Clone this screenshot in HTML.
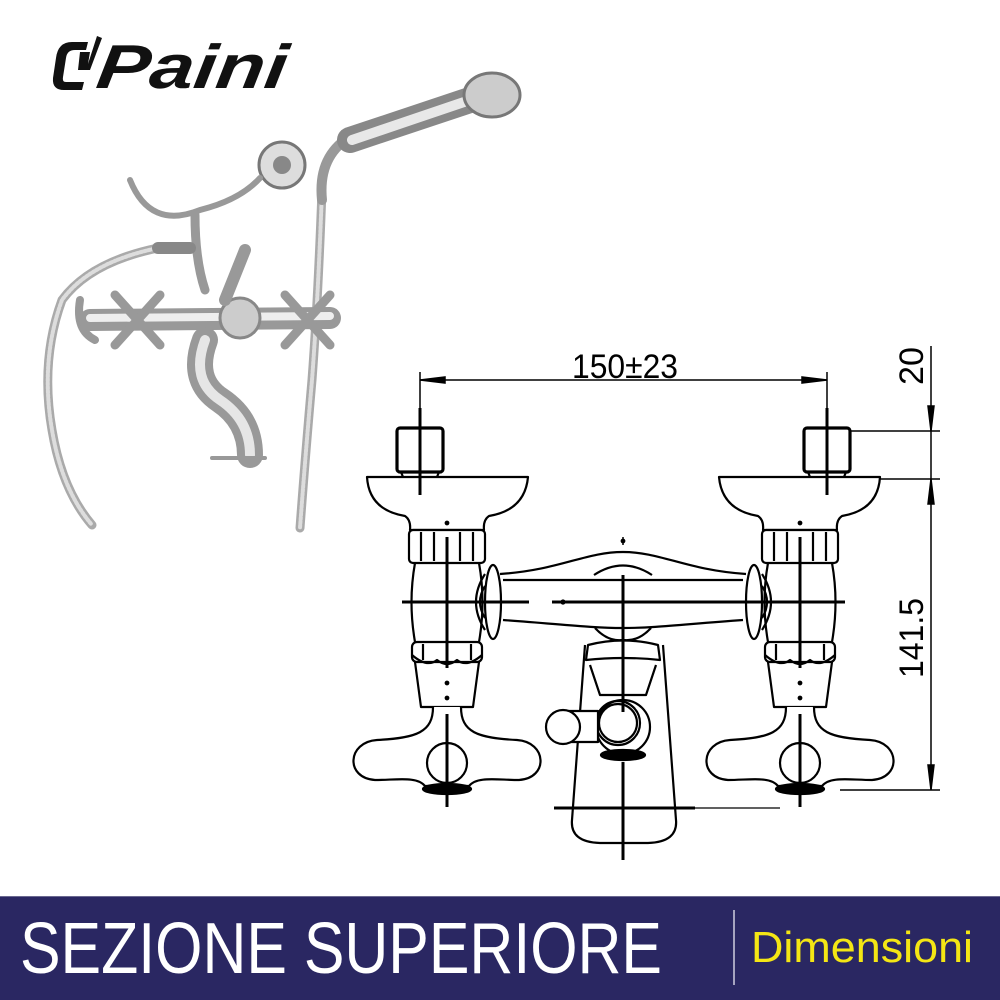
<!DOCTYPE html>
<html><head><meta charset="utf-8"><style>
html,body{margin:0;padding:0;background:#fff;width:1000px;height:1000px;overflow:hidden}
svg{display:block}
</style></head><body>
<svg width="1000" height="1000" viewBox="0 0 1000 1000" xmlns="http://www.w3.org/2000/svg">
<defs>
<g id="valve" fill="none" stroke="#000" stroke-width="2.2" stroke-linejoin="round">
  <rect x="-50" y="428" width="46" height="44" rx="3" stroke-width="3.2"/>
  <path d="M-46 472 L-44 477 M-8 472 L-10 477"/>
  <path d="M-80 477 H81 Q78 510 42 516 Q36 520 37 530 H-37 Q-36 520 -42 516 Q-78 510 -80 477 Z" fill="#fff"/>
  <rect x="-38" y="530" width="76" height="33" rx="4" fill="#fff"/>
  <path d="M-26 532 V561 M-13 532 V561 M13 532 V561 M26 532 V561"/>
  <path d="M-32 563 Q-39 602 -32 642 M32 563 Q39 602 32 642"/>
  <rect x="-35" y="642" width="70" height="20" rx="5" fill="#fff"/>
  <path d="M-35 655 Q-20 668 -10 660 Q0 668 10 660 Q20 668 35 655 M-24 644 V660 M24 644 V660"/>
  <path d="M-32 662 L-26 707 H26 L32 662"/>
  <path d="M-14 707 C-14 732 -30 738 -70 740 C-100 742 -102 778 -72 780 C-50 780 -30 776 -22 786 H22 C30 776 50 780 72 780 C102 778 100 742 70 740 C30 738 14 732 14 707" fill="#fff"/>
  <ellipse cx="0" cy="763" rx="20" ry="20" fill="#fff"/>
  <ellipse cx="0" cy="789" rx="24" ry="5" fill="#000"/>
  <ellipse cx="46" cy="602" rx="8" ry="37" fill="#fff"/>
  <path d="M38 574 Q20 602 38 630 M38 586 Q28 602 38 618"/>
  <line x1="-27" y1="408" x2="-27" y2="495" stroke-width="3"/>
  <line x1="0" y1="537" x2="0" y2="668" stroke-width="3"/>
  <line x1="0" y1="714" x2="0" y2="807" stroke-width="3"/>
  <line x1="-45" y1="602" x2="82" y2="602" stroke-width="3"/>
  <circle cx="0" cy="523" r="1.3" fill="#000"/>
  <circle cx="0" cy="683" r="1.3" fill="#000"/>
  <circle cx="0" cy="698" r="1.3" fill="#000"/>
</g>
</defs>

<g fill="#111">
  <path d="M72 42 Q58 42 56 58 L53 78 Q52 90 64 90 L82 90 L84 82 L66 82 Q62 82 63 77 L66 58 Q67 50 75 50 L86 50 L88 42 Z"/>
  <path d="M80 52 L90 52 L88 64 L97 36 L102 38 L90 70 L78 70 Z"/>
  <text x="95" y="88" font-family="Liberation Sans, sans-serif" font-weight="bold" font-style="italic" font-size="62" transform="skewX(-8) translate(12,0)" textLength="190" lengthAdjust="spacingAndGlyphs">Paini</text>
</g>

<g fill="none" stroke-linecap="round">
  <path d="M158 248 Q90 262 62 300 Q40 360 52 430 Q62 490 92 525" stroke="#aaa" stroke-width="9"/>
  <path d="M158 248 Q90 262 62 300 Q40 360 52 430 Q62 490 92 525" stroke="#ddd" stroke-width="4" stroke-dasharray="2 2"/>
  <path d="M322 190 Q318 300 312 380 Q305 460 300 528" stroke="#aaa" stroke-width="9"/>
  <path d="M322 190 Q318 300 312 380 Q305 460 300 528" stroke="#ddd" stroke-width="4" stroke-dasharray="2 2"/>
  <path d="M322 200 Q318 160 345 140" stroke="#999" stroke-width="10"/>
  <path d="M350 140 L470 100" stroke="#888" stroke-width="26"/>
  <path d="M352 140 L470 100" stroke="#e8e8e8" stroke-width="10"/>
  <ellipse cx="492" cy="95" rx="28" ry="22" fill="#ccc" stroke="#777" stroke-width="3"/>
  <circle cx="282" cy="165" r="23" fill="#ddd" stroke="#777" stroke-width="3"/>
  <circle cx="282" cy="165" r="9" fill="#888"/>
  <path d="M130 180 Q150 230 200 210 Q240 200 260 178" stroke="#999" stroke-width="6"/>
  <path d="M195 215 Q195 260 205 290" stroke="#999" stroke-width="9"/>
  <path d="M158 248 L190 248" stroke="#888" stroke-width="12"/>
  <path d="M80 300 Q75 330 95 340" stroke="#999" stroke-width="8"/>
  <path d="M90 320 L330 318" stroke="#999" stroke-width="22"/>
  <path d="M90 318 L330 316" stroke="#eee" stroke-width="8"/>
  <path d="M115 295 L160 345 M160 295 L115 345 M285 295 L330 345 M330 295 L285 345" stroke="#999" stroke-width="9"/>
  <circle cx="240" cy="318" r="20" fill="#ccc" stroke="#888" stroke-width="3"/>
  <path d="M225 300 L245 250" stroke="#999" stroke-width="12"/>
  <path d="M205 340 Q190 380 220 400 Q250 420 250 455" stroke="#999" stroke-width="26"/>
  <path d="M205 340 Q190 380 220 400 Q250 420 250 455" stroke="#e6e6e6" stroke-width="10"/>
  <path d="M212 458 L265 458" stroke="#999" stroke-width="4"/>
</g>

<use href="#valve" transform="translate(447,0)"/>
<use href="#valve" transform="translate(800,0) scale(-1,1)"/>

<g fill="none" stroke="#000" stroke-width="2.2" stroke-linejoin="round">
  <path d="M500 574 C560 570 585 552 623 552 C661 552 686 570 746 574" fill="#fff"/>
  <path d="M503 580 L743 580"/>
  <path d="M503 620 C560 624 590 628 623 628 C656 628 686 624 743 620"/>
  <path d="M594 575 Q623 556 652 575"/>
  <path d="M595 628 Q608 642 623 640 Q638 642 651 628"/>
  <path d="M585 645 L572 820 Q570 842 600 843 H648 Q678 842 676 820 L663 645"/>
  <path d="M588 645 Q623 636 658 645 L660 660 Q623 656 586 660 Z" fill="#fff"/>
  <path d="M590 665 L600 695 H646 L656 665"/>
  <ellipse cx="623" cy="727" rx="27" ry="27" fill="#fff"/>
  <circle cx="618" cy="723" r="22"/>
  <circle cx="618" cy="723" r="19"/>
  <path d="M562 711 H598 V742 H562" fill="#fff"/>
  <ellipse cx="563" cy="727" rx="17" ry="17" fill="#fff"/>
  <ellipse cx="623" cy="755" rx="22" ry="5" fill="#000"/>
  <line x1="623" y1="537" x2="623" y2="545" stroke-width="1.5"/>
  <line x1="623" y1="575" x2="623" y2="712" stroke-width="3"/>
  <line x1="623" y1="762" x2="623" y2="860" stroke-width="3"/>
  <line x1="575" y1="602" x2="552" y2="602" stroke-width="3"/>
  <line x1="575" y1="602" x2="760" y2="602" stroke-width="3" stroke-dasharray="150 14 3 14 200"/>
  <line x1="554" y1="808" x2="695" y2="808" stroke-width="3"/>
  <line x1="695" y1="808" x2="780" y2="808" stroke-width="1.2"/>
  <circle cx="623" cy="541" r="1.3" fill="#000"/>
  <circle cx="563" cy="602" r="1.5" fill="#000"/>
</g>

<g stroke="#000" stroke-width="1.5" fill="none">
  <line x1="420" y1="372" x2="420" y2="430"/>
  <line x1="827" y1="372" x2="827" y2="430"/>
  <line x1="420" y1="380" x2="827" y2="380"/>
  <path d="M420 380 L445 377 L445 383 Z M827 380 L802 377 L802 383 Z" fill="#000"/>
  <line x1="931" y1="346" x2="931" y2="790"/>
  <line x1="850" y1="431" x2="940" y2="431"/>
  <line x1="880" y1="479" x2="940" y2="479"/>
  <line x1="840" y1="790" x2="940" y2="790"/>
  <path d="M931 431 L928 406 L934 406 Z M931 479 L928 504 L934 504 Z M931 790 L928 765 L934 765 Z" fill="#000"/>
</g>
<g font-family="Liberation Sans, sans-serif" font-size="34" fill="#000">
  <text x="625" y="378" text-anchor="middle" textLength="106" lengthAdjust="spacingAndGlyphs">150±23</text>
  <text transform="translate(923,366) rotate(-90)" text-anchor="middle" textLength="38" lengthAdjust="spacingAndGlyphs">20</text>
  <text transform="translate(923,638) rotate(-90)" text-anchor="middle" textLength="80" lengthAdjust="spacingAndGlyphs">141.5</text>
</g>

<rect x="0" y="896" width="1000" height="104" fill="#2a2762"/>
<line x1="0" y1="896.5" x2="1000" y2="896.5" stroke="#6a6890" stroke-width="1"/>
<line x1="734" y1="910" x2="734" y2="985" stroke="#cfcfe0" stroke-width="1.5"/>
<text x="20" y="973" font-family="Liberation Sans, sans-serif" font-size="72" fill="#fff" textLength="642" lengthAdjust="spacingAndGlyphs">SEZIONE SUPERIORE</text>
<text x="751" y="962" font-family="Liberation Sans, sans-serif" font-size="44" fill="#f4e614" textLength="222" lengthAdjust="spacingAndGlyphs">Dimensioni</text>
</svg>
</body></html>
